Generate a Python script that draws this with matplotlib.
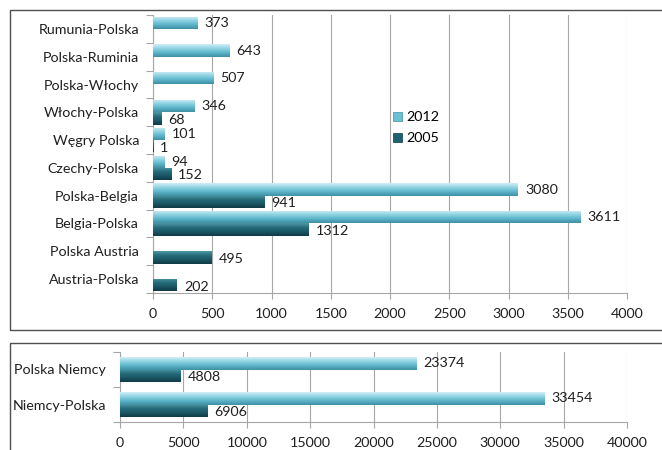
import matplotlib
matplotlib.use("Agg")
import matplotlib.pyplot as plt
import numpy as np
from matplotlib.patches import Rectangle
from matplotlib.colors import LinearSegmentedColormap

plt.rcParams['font.family'] = ['Lato', 'DejaVu Sans']

# ---- data ----
top_categories = ["Rumunia-Polska", "Polska-Ruminia", "Polska-Włochy", "Włochy-Polska",
                  "Węgry Polska", "Czechy-Polska", "Polska-Belgia", "Belgia-Polska",
                  "Polska Austria", "Austria-Polska"]
top_2012 = [373, 643, 507, 346, 101, 94, 3080, 3611, None, None]
top_2005 = [None, None, None, 68, 1, 152, 941, 1312, 495, 202]
top_ticks = [0, 500, 1000, 1500, 2000, 2500, 3000, 3500, 4000]

bottom_categories = ["Polska Niemcy", "Niemcy-Polska"]
bottom_2012 = [23374, 33454]
bottom_2005 = [4808, 6906]
bottom_ticks = [0, 5000, 10000, 15000, 20000, 25000, 30000, 35000, 40000]

series_names = ["2012", "2005"]

light_cmap = LinearSegmentedColormap.from_list(
    "light", ["#D2F0F6", "#8FD3E3", "#5DB6CB", "#3F8FA2"])
dark_cmap = LinearSegmentedColormap.from_list(
    "dark", ["#4E97A5", "#266D7B", "#1A5663", "#0F3A44"])
LIGHT = "#6CC0D4"
DARK = "#1E6170"
GRID = "#A6A6A6"
FS = 10.3

W, H = 662, 450
fig = plt.figure(figsize=(W / 100, H / 100), dpi=100)


def gradient_bars(ax, bars, cmap):
    grad = np.linspace(0, 1, 64).reshape(-1, 1)
    for b in bars:
        x0, y0 = b.get_x(), b.get_y()
        w, h = b.get_width(), b.get_height()
        if w <= 0:
            continue
        im = ax.imshow(grad, cmap=cmap, aspect='auto',
                       extent=(x0, x0 + w, y0 + h, y0), zorder=3,
                       interpolation='bicubic')
        im.set_clip_path(b)
        b.set_facecolor('none')


def draw(ax, cats, v12, v05, ticks, half, lab_off):
    n = len(cats)
    y = np.arange(n)
    v12a = np.array([v if v is not None else 0 for v in v12], dtype=float)
    v05a = np.array([v if v is not None else 0 for v in v05], dtype=float)
    b12 = ax.barh(y - half / 2, v12a, height=half, color=LIGHT,
                  edgecolor='none', zorder=3, label=series_names[0])
    b05 = ax.barh(y + half / 2, v05a, height=half, color=DARK,
                  edgecolor='none', zorder=3, label=series_names[1])
    ax.set_xlim(ticks[0], ticks[-1])
    ax.set_ylim(n - 0.5, -0.5)
    gradient_bars(ax, b12, light_cmap)
    gradient_bars(ax, b05, dark_cmap)
    for i in range(n):
        if v12[i] is not None:
            ax.annotate(str(v12[i]), (v12[i], y[i] - half / 2),
                        xytext=(lab_off, 0), textcoords='offset points',
                        va='center', ha='left', fontsize=FS, color='#202020', zorder=5)
        if v05[i] is not None:
            ax.annotate(str(v05[i]), (v05[i], y[i] + half / 2),
                        xytext=(lab_off, -1), textcoords='offset points',
                        va='center', ha='left', fontsize=FS, color='#202020', zorder=5)
    ax.set_xticks(ticks)
    ax.set_xticklabels([str(t) for t in ticks], fontsize=FS, color='#202020')
    ax.set_yticks(y)
    ax.set_yticklabels(cats, fontsize=FS, color='#202020')
    ax.set_yticks(np.arange(n + 1) - 0.5, minor=True)
    ax.tick_params(axis='y', which='major', length=0, pad=10)
    ax.tick_params(axis='y', which='minor', length=5, color=GRID, width=0.8)
    ax.tick_params(axis='x', which='major', length=4, color=GRID, width=0.8, pad=7)
    ax.grid(axis='x', color=GRID, linewidth=0.8, zorder=0)
    ax.set_axisbelow(True)
    for s in ['top', 'right']:
        ax.spines[s].set_visible(False)
    for s in ['left', 'bottom']:
        ax.spines[s].set_color(GRID)
        ax.spines[s].set_linewidth(0.8)
    return b12, b05


# top panel border
fig.patches.append(Rectangle((10 / W, 1 - 330 / H), 1.0, (330 - 10) / H,
                             transform=fig.transFigure, fill=False,
                             edgecolor='#505050', linewidth=1.0))
# bottom panel border
fig.patches.append(Rectangle((10 / W, -0.1), 1.0, (450 - 343) / H + 0.1,
                             transform=fig.transFigure, fill=False,
                             edgecolor='#505050', linewidth=1.0))

ax1 = fig.add_axes([153 / W, 1 - 293 / H, 474 / W, (293 - 15) / H])
draw(ax1, top_categories, top_2012, top_2005, top_ticks, 0.44, 5)

ax2 = fig.add_axes([120 / W, 1 - 422 / H, 507 / W, (422 - 352) / H])
draw(ax2, bottom_categories, bottom_2012, bottom_2005, bottom_ticks, 0.36, 5)

handles = [Rectangle((0, 0), 1, 1, facecolor=LIGHT, edgecolor='#3F8FA2', lw=0.5),
           Rectangle((0, 0), 1, 1, facecolor=DARK, edgecolor='#0F3A44', lw=0.5)]
ax1.legend(handles, series_names, loc='upper left',
           bbox_to_anchor=((386 - 153) / 474, (293 - 104) / 278),
           frameon=False, fontsize=FS, handlelength=0.6, handleheight=0.6,
           handletextpad=0.3, labelspacing=0.65, borderpad=0)

fig.savefig("out.png", dpi=100)
